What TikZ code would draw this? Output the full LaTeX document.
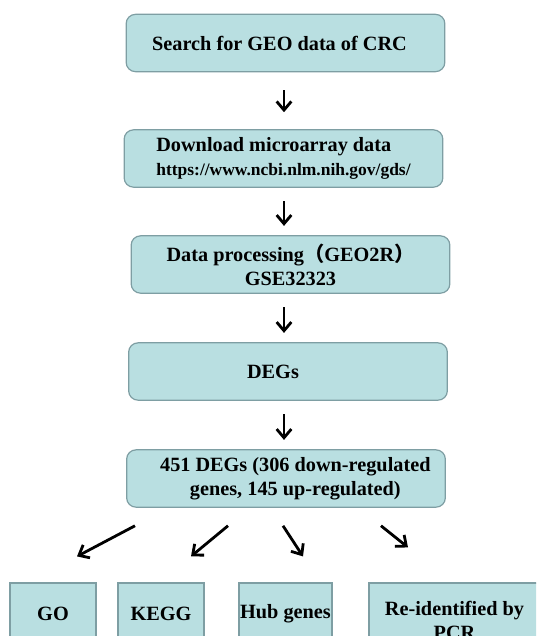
\documentclass[tikz,border=0pt]{standalone}
\usepackage{fontspec}
\setmainfont{Liberation Serif}
\newfontfamily\cjk{Noto Sans CJK SC}
\usetikzlibrary{arrows.meta, calc}
\definecolor{boxfill}{HTML}{B9DFE1}
\definecolor{boxline}{HTML}{7E9EA3}

\begin{document}
\begin{tikzpicture}[x=0.75pt, y=-0.75pt,
          >={Straight Barb[length=6.5pt, width=11pt]},
          stepbox/.style={draw=boxline, fill=boxfill, line width=0.9pt,
            rounded corners=7pt, minimum width=239pt, minimum height=43pt,
            inner sep=0pt, align=center,
            font=\bfseries\fontsize{15.2}{18}\selectfont},
          leafbox/.style={stepbox, rounded corners=0pt, minimum height=46.5pt},
          flow/.style={->, line width=2.1pt, black}]
        \useasboundingbox (0,0) rectangle (536,636);
        \clip (0,0) rectangle (536,636);
        % main steps
        \node[stepbox] (search) at (285.5,43)
              {Search for GEO data of CRC\hspace*{9pt}};
        \node[stepbox, align=left] (download) at (283.5,158.5)
              {Download microarray data\\
               {\fontsize{13.1}{15}\selectfont https://www.ncbi.nlm.nih.gov/gds/}};
        \node[stepbox] (process) at (290.5,264.5)
              {Data processing{\cjk （}GEO2R{\cjk ）}\\GSE32323};
        \node[stepbox] (degs) at (288,371.5) {DEGs\hspace*{22.5pt}};
        \node[stepbox] (sum) at (286,478.5)
              {\hspace*{14pt}451 DEGs (306 down-regulated\\
               \hspace*{14pt}genes, 145 up-regulated)};
        \coordinate (spine) at (284,0);
        \foreach \a/\b/\s/\e in {search/download/13.5/12.75,
            download/process/10/7, process/degs/10/7, degs/sum/10/7}{
          \draw[flow, shorten <=\s pt, shorten >=\e pt]
            (\a.south -| spine) -- (\b.north -| spine);
        }
        % analyses
        \foreach \n/\x/\w/\t in {go/53/86/GO, kegg/161/86/KEGG,
            hub/285.5/93/Hub genes,
            pcr/454.5/171/{\rule{0pt}{21pt}Re-identified by\\PCR}}{
          \node[leafbox, minimum width=\w*0.75pt] (\n) at (\x,614) {\t};
        }
        \draw[flow] ($(sum.south)+(-151,18)$) -- ($(go.north)+(24,-26)$);
        \draw[flow] ($(sum.south)+(-58,18)$) -- ($(kegg.north)+(30,-26)$);
        \draw[flow] ($(sum.south)+(-3,18)$) -- ($(hub.north)+(17.5,-26)$);
        \draw[flow] ($(sum.south)+(95,18)$) -- ($(pcr.north)+(-46.5,-35)$);
      \end{tikzpicture}
\end{document}
